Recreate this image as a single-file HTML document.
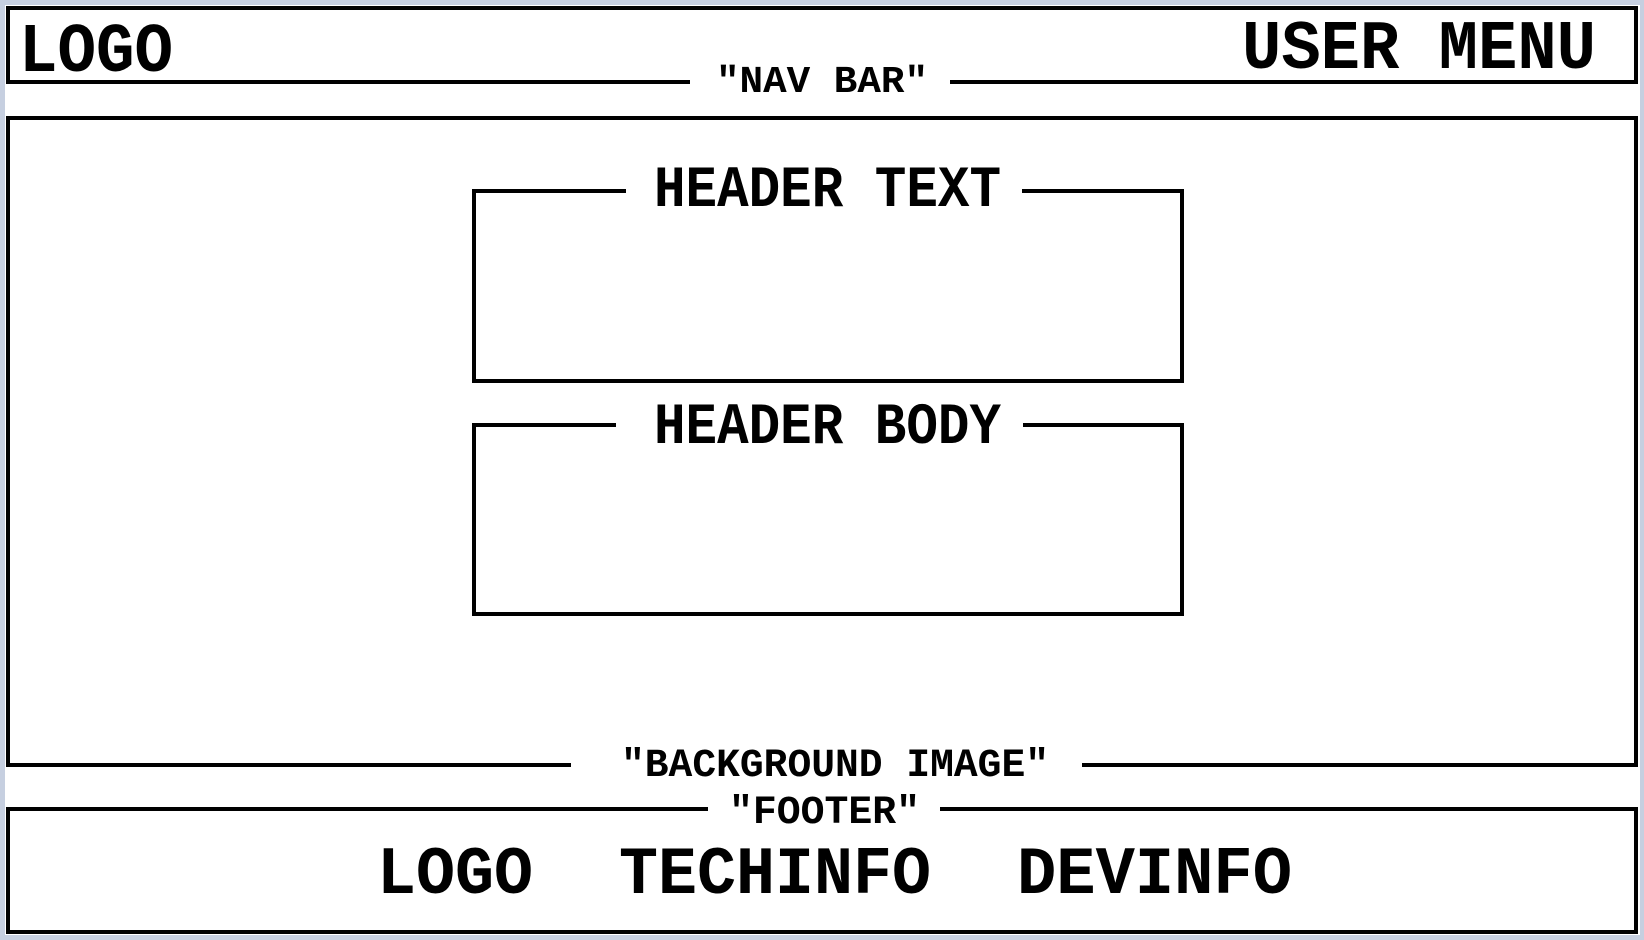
<!DOCTYPE html>
<html><head><meta charset="utf-8"><style>
html,body{margin:0;padding:0;background:#c6cfe0;}
svg{display:block;}
text{font-family:"Liberation Mono",monospace;font-weight:bold;fill:#000;}
</style></head><body>
<svg width="1644" height="940" viewBox="0 0 1644 940" xmlns="http://www.w3.org/2000/svg">
<rect x="0" y="0" width="1644" height="940" fill="#c6cfe0"/>
<rect x="5" y="5" width="1635" height="930" fill="#fff"/>
<g fill="none" stroke="#000" stroke-width="4">
<polyline points="690,82 8,82 8,8 1636,8 1636,82 950,82"/>
<polyline points="571,765 8,765 8,118 1636,118 1636,765 1082,765"/>
<polyline points="626,191 474,191 474,381 1182,381 1182,191 1022,191"/>
<polyline points="616,425 474,425 474,614 1182,614 1182,425 1023,425"/>
<polyline points="708,809 8,809 8,932 1636,932 1636,809 940,809"/>
</g>
<text x="19" y="71" font-size="70" textLength="154" lengthAdjust="spacingAndGlyphs">LOGO</text>
<text x="1242" y="68" font-size="70" textLength="354" lengthAdjust="spacingAndGlyphs">USER MENU</text>
<text x="716" y="92" font-size="38" textLength="212" lengthAdjust="spacingAndGlyphs">"NAV BAR"</text>
<text x="654" y="206" font-size="58" textLength="347" lengthAdjust="spacingAndGlyphs">HEADER TEXT</text>
<text x="654" y="443" font-size="58" textLength="347" lengthAdjust="spacingAndGlyphs">HEADER BODY</text>
<text x="621" y="776" font-size="40" textLength="428" lengthAdjust="spacingAndGlyphs">"BACKGROUND IMAGE"</text>
<text x="729" y="823" font-size="40" textLength="191" lengthAdjust="spacingAndGlyphs">"FOOTER"</text>
<text x="377" y="893" font-size="68" textLength="156" lengthAdjust="spacingAndGlyphs">LOGO</text>
<text x="619" y="893" font-size="68" textLength="312" lengthAdjust="spacingAndGlyphs">TECHINFO</text>
<text x="1017" y="893" font-size="68" textLength="275" lengthAdjust="spacingAndGlyphs">DEVINFO</text>
</svg>
</body></html>
